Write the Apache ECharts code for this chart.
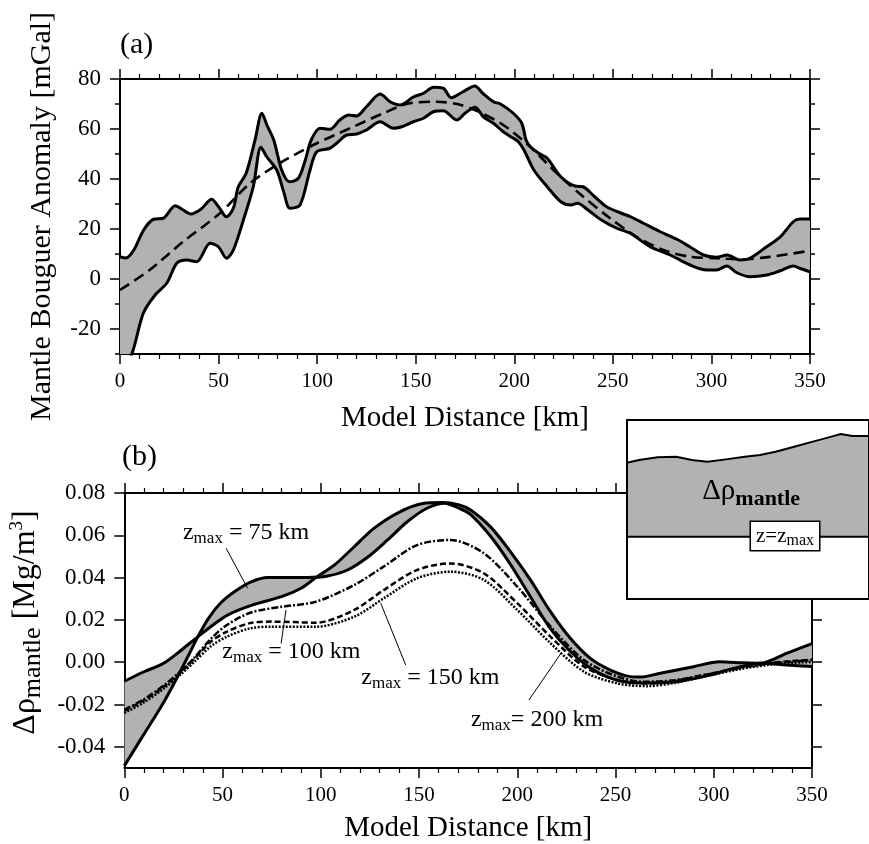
<!DOCTYPE html>
<html><head><meta charset="utf-8">
<script src="https://cdn.jsdelivr.net/npm/echarts@6/dist/echarts.min.js"></script>
<style>html,body{margin:0;padding:0;background:#fff}#c{width:869px;height:844px}</style>
</head><body><div id="c"></div>
<script>
// ---------- Panel (a): Mantle Bouguer anomaly ----------
const xTicks = [0, 50, 100, 150, 200, 250, 300, 350];
const aYTicks = [-20, 0, 20, 40, 60, 80];
const aYMinor = [-30, -10, 10, 30, 50, 70];
const aUpper = [[0,8.9],[3,8.4],[7,11.6],[12,19.6],[17,23.9],[22,24.3],[28,29.3],[32,27.6],[36,26],[41,27.9],[46.5,31.9],[50,28.9],[54,24.9],[57.5,28.3],[60,36.9],[64,42.3],[68.5,55.6],[72,66.3],[74.5,61.6],[78,55.6],[82,43.6],[86,38.9],[90.5,40.3],[94,47.6],[97,55.6],[101.5,60.3],[106.5,59.9],[111.5,63.6],[116,65.6],[120,65.2],[125,68.9],[132,74],[137,70.9],[142,69.6],[149,72.9],[154,74.3],[159,76.7],[164,76.3],[168,72.5],[174,74.9],[180,77.2],[184,74.3],[189.4,70.9],[193,70],[199.5,66.3],[203.8,62.3],[206,55.5],[208.2,52.9],[212,50.5],[216.7,48.3],[223.6,40.9],[230.8,37.2],[234.9,36.9],[240.8,32.9],[246.8,28.9],[253.7,26.5],[259,24.9],[265.5,22.3],[274,18.9],[282.5,15.9],[289,12.9],[296,9.6],[302.5,8.7],[308,9.6],[314.5,7.6],[319.5,8.3],[328,12.9],[335,16.9],[341.5,22.9],[345,24],[350,24]];
const aLower = [[0,-38],[6,-30],[11.8,-13.7],[17.8,-6.4],[23.7,-1.7],[28.8,6.3],[33.8,7.6],[38.9,6.9],[45.7,14.3],[49.9,12.9],[54.1,8.3],[57.5,11.6],[62.6,23.6],[67.6,36.9],[71.5,52.7],[74.4,48.9],[79.5,43.6],[83,35],[86.2,28.3],[91.3,29.6],[96.4,43.6],[99.8,50.9],[106.5,52.3],[109.9,54.3],[115,57.6],[120,58],[125,59.6],[131.9,62.9],[138.7,60.3],[143,60.9],[148.8,62.9],[153.9,64.3],[159,66.9],[164,67.3],[170.8,63.6],[175,66.3],[180.1,68.7],[184.3,64.9],[189.4,62.3],[194.4,58.9],[199.5,56.3],[202,55],[204.9,51.6],[209.9,43.6],[216.7,36.9],[223.6,30.9],[228.7,29.6],[232,30.3],[237.4,27.6],[244.2,23.6],[252,20.3],[258.8,18.3],[268.9,12.9],[279.1,9.6],[289.2,5.6],[297.7,3.6],[302.7,3.6],[307.8,5.2],[312.9,2.5],[319.6,0.9],[328.1,1.6],[334.9,3.3],[341.6,5.2],[345,4.2],[350,2.9]];
const aTrend = [[0,-4.4],[15,3.6],[32,14.9],[50.7,26.3],[66,38.3],[81,46.3],[98,53.6],[116.7,60.3],[133.6,66.3],[147,70.3],[160.7,70.9],[171,70],[180,67.6],[194.4,61.6],[208,52.9],[221.6,42.3],[235,32.9],[248.6,24.3],[262,16.9],[275.6,11.6],[289,8.9],[302.7,8.3],[316,7.9],[330,8.9],[350,11.3]];

// ---------- Panel (b): density contrast ----------
const bYTicks = [-0.04, -0.02, 0, 0.02, 0.04, 0.06, 0.08];
const bA = [[0,-0.009],[10,-0.0045],[20,-0.0005],[30,0.0065],[37.4,0.012],[45,0.0175],[53,0.0225],[65,0.027],[80,0.031],[90,0.035],[97.5,0.040],[107,0.046],[117,0.0546],[127,0.0633],[140,0.071],[152,0.075],[162,0.0755],[170,0.0745],[176.3,0.072],[186.4,0.064],[196.6,0.0522],[206.7,0.0389],[216.9,0.0239],[227,0.0113],[237.2,0.0018],[247.4,-0.0037],[257.5,-0.0068],[263,-0.007],[272.8,-0.0052],[289.7,-0.0021],[303,0.0002],[315,-0.0003],[323.6,-0.0005],[337,0.0042],[350,0.0088]];
const bB = [[0,-0.049],[10,-0.034],[20,-0.019],[27,-0.007],[32,0.002],[37.4,0.012],[43,0.021],[49,0.028],[56,0.0333],[64.5,0.038],[73,0.0401],[83,0.0401],[93,0.0401],[103.5,0.0408],[113.6,0.0436],[123.8,0.0496],[134,0.0578],[144,0.0664],[154,0.0728],[163,0.0752],[170,0.073],[176,0.070],[186,0.060],[196,0.047],[206,0.032],[216,0.017],[226,0.006],[236,-0.002],[246,-0.007],[256,-0.0095],[263,-0.0098],[281,-0.0092],[298,-0.0061],[310,-0.0029],[323.6,-0.0005],[337,-0.0013],[350,-0.002]];
const bZ100 = [[0,-0.0225],[10,-0.0175],[20,-0.011],[29,-0.004],[36,0.0025],[44,0.011],[52,0.0175],[64.5,0.0235],[80,0.0262],[97.5,0.0286],[117,0.0365],[132,0.0452],[149,0.0554],[166,0.0578],[183,0.0515],[200,0.0357],[217,0.0168],[234,0.001],[251,-0.0068],[264,-0.0092],[280,-0.0085],[298,-0.0055],[315,-0.0025],[330,-0.0005],[350,0.001]];
const bZ150 = [[0,-0.023],[10,-0.018],[20,-0.0116],[29,-0.0045],[36,0.002],[44,0.0097],[52,0.0144],[64,0.0185],[75,0.0192],[97.5,0.0187],[117,0.0247],[132,0.0341],[149,0.0436],[166,0.0467],[183,0.042],[200,0.0279],[217,0.012],[234,-0.0021],[251,-0.0084],[266,-0.01],[280,-0.0088],[298,-0.0055],[315,-0.0022],[330,-0.0002],[350,0.0012]];
const bZ200 = [[0,-0.024],[10,-0.019],[20,-0.0125],[29,-0.0055],[36,0.0005],[44,0.0075],[52,0.012],[64,0.016],[75,0.0168],[97.5,0.0168],[117,0.0215],[132,0.0302],[149,0.0397],[166,0.0428],[183,0.0389],[200,0.0247],[217,0.0089],[234,-0.0045],[251,-0.01],[266,-0.0113],[280,-0.0098],[298,-0.0062],[315,-0.003],[330,-0.001],[350,0.0002]];
const bLabelText = ['{n|z}{s|max}{n| = 75 km}', '{n|z}{s|max}{n| = 100 km}', '{n|z}{s|max}{n| = 150 km}', '{n|z}{s|max}{n|= 200 km}'];
const bLabelAt = [[62.2,0.0611],[85.3,0.0048],[156,-0.0075],[210.3,-0.0273]];
const bLeaders = [[[51.8,0.0539],[62.8,0.0349]], [[79.8,0.0089],[82.3,0.0247]], [[143.2,-0.0013],[130.5,0.0279]], [[205.9,-0.0179],[222.2,0.0042]]];

// ---------- Inset sketch ----------
const insetX =   [0, 5, 12.7, 20.4, 26.8, 33.2, 40.9, 48.6, 55, 61.4, 69.1, 76.8, 84.5, 88.3, 93.1, 100];
const insetTop = [76.1, 77.7, 79.2, 79.5, 77.7, 76.7, 78.0, 79.5, 80.4, 82.3, 85.1, 87.9, 90.7, 92.2, 91.1, 91];
const insetZmax = 34.8;
const insetLabels = ['{d|Δρ}{m|mantle}', '{z|z=z}{s|max}'];
const insetLabelAt = [[51.5, 59.8], [65.5, 34.9]];

// ---------- styling ----------
const FONT = 'Liberation Serif';
const INK = '#000';
const GRAY = '#b2b2b2';
const NOBORDER = { textBorderWidth: 0, textBorderColor: 'transparent', textShadowBlur: 0, opacity: 1 };

const xAxes = [], yAxes = [];
function axisLine() { return { show: true, onZero: false, lineStyle: { color: INK, width: 2 } }; }
function addX(gridIndex, position, labeled, nameGap) {
  xAxes.push({
    gridIndex, type: 'value', position,
    min: xTicks[0], max: xTicks[xTicks.length - 1], interval: xTicks[1] - xTicks[0],
    axisLine: axisLine(),
    axisTick: { show: true, inside: false, length: 10, lineStyle: { color: INK, width: 1.5 } },
    minorTick: { show: true, splitNumber: 5, length: 5, lineStyle: { color: INK, width: 1.2 } },
    splitLine: { show: false }, minorSplitLine: { show: false },
    axisLabel: { show: labeled, color: INK, fontFamily: FONT, fontSize: 21, margin: 17 },
    name: labeled ? 'Model Distance [km]' : '', nameLocation: 'middle', nameGap: nameGap || 0,
    nameTextStyle: { color: INK, fontFamily: FONT, fontSize: 29 }
  });
}
function addY(gridIndex, position, min, max, ticks, len, opts) {
  const o = opts || {};
  yAxes.push({
    gridIndex, type: 'value', position, min, max,
    axisLine: o.noLine ? { show: false, onZero: false } : axisLine(),
    axisTick: { show: true, inside: false, length: len, customValues: ticks, lineStyle: { color: INK, width: 1.5 } },
    axisLabel: o.labeled ? { show: true, customValues: ticks, formatter: o.fmt, color: INK, fontFamily: FONT, fontSize: 23, margin: 19 } : { show: false },
    splitLine: { show: false },
    name: o.name || '', nameLocation: 'middle', nameGap: o.nameGap || 0,
    nameTextStyle: o.nameStyle || {}
  });
}

// x axes: 0 a-bottom, 1 a-top, 2 b-bottom, 3 b-top, 4 inset
addX(0, 'bottom', true, 50);
addX(0, 'top', false);
addX(1, 'bottom', true, 46);
addX(1, 'top', false);
xAxes.push({ gridIndex: 2, type: 'value', min: 0, max: 100, show: false });

// y axes: 0 a-left, 1 a-left minor, 2 a-right, 3 a-right minor, 4 b-left, 5 b-right, 6 inset
addY(0, 'left', -30, 80, aYTicks, 10, { labeled: true, fmt: v => String(v),
  name: 'Mantle Bouguer Anomaly [mGal]', nameGap: 63,
  nameStyle: { color: INK, fontFamily: FONT, fontSize: 30 } });
addY(0, 'left', -30, 80, aYMinor, 5, { noLine: true });
addY(0, 'right', -30, 80, aYTicks, 10, {});
addY(0, 'right', -30, 80, aYMinor, 5, { noLine: true });
addY(1, 'left', -0.05, 0.08, bYTicks, 10, { labeled: true, fmt: v => Number(v).toFixed(2),
  name: '{a|Δρ}{s|mantle}{a| [Mg/m}{p|3}{a|]}', nameGap: 68,
  nameStyle: { color: INK, fontFamily: FONT, fontSize: 32, padding: [0, 0, 0, 16],
    rich: { a: { fontFamily: FONT, fontSize: 32, color: INK },
            s: { fontFamily: FONT, fontSize: 26, color: INK, padding: [16, 0, 0, 0] },
            p: { fontFamily: FONT, fontSize: 19, color: INK, padding: [0, 0, 16, 0] } } } });
addY(1, 'right', -0.05, 0.08, bYTicks, 10, {});
yAxes.push({ gridIndex: 2, type: 'value', min: 0, max: 100, show: false });

function bandItem(upper, lower) {
  return function (params, api) {
    const pts = [];
    upper.forEach(p => pts.push(api.coord(p)));
    for (let i = lower.length - 1; i >= 0; i--) pts.push(api.coord(lower[i]));
    const cs = params.coordSys;
    return { type: 'group', clipPath: { type: 'rect', shape: { x: cs.x, y: cs.y, width: cs.width, height: cs.height } },
      children: [{ type: 'polygon', shape: { points: pts }, style: { fill: GRAY } }] };
  };
}
function lineS(xi, yi, data, width, type, z) {
  return { type: 'line', xAxisIndex: xi, yAxisIndex: yi, data, showSymbol: false, symbol: 'none', smooth: 0.3,
    clip: true, silent: true, z: z || 3, lineStyle: { color: INK, width, type: type || 'solid' } };
}
const subRich = {
  n: Object.assign({ fontFamily: FONT, fontSize: 24, color: INK }, NOBORDER),
  s: Object.assign({ fontFamily: FONT, fontSize: 17, color: INK, padding: [12, 0, 0, 0] }, NOBORDER)
};
const labelBase = { show: true, position: [0, 0], align: 'center', verticalAlign: 'middle', color: INK };

const series = [
  { type: 'custom', xAxisIndex: 0, yAxisIndex: 0, data: [[0, 0]], clip: true, silent: true, z: 1, renderItem: bandItem(aUpper, aLower) },
  lineS(0, 0, aUpper, 3),
  lineS(0, 0, aLower, 3),
  lineS(0, 0, aTrend, 2.6, [11, 6], 4),

  { type: 'custom', xAxisIndex: 2, yAxisIndex: 4, data: [[0, 0]], clip: true, silent: true, z: 1, renderItem: bandItem(bA, bB) },
  lineS(2, 4, bA, 3),
  lineS(2, 4, bB, 3),
  lineS(2, 4, bZ100, 2.5, [7, 2, 2, 2], 4),
  lineS(2, 4, bZ150, 2.5, [6, 3], 4),
  lineS(2, 4, bZ200, 2.5, [2, 1.5], 4)
];
bLeaders.forEach(seg => series.push({ type: 'line', xAxisIndex: 2, yAxisIndex: 4, data: seg, symbol: 'none', silent: true, z: 5,
  lineStyle: { color: INK, width: 1 } }));
series.push({ type: 'scatter', xAxisIndex: 2, yAxisIndex: 4, symbolSize: 1, silent: true, z: 6,
  itemStyle: { color: 'rgba(0,0,0,0)' },
  data: bLabelAt.map((p, i) => ({ value: p, label: { formatter: bLabelText[i] } })),
  label: Object.assign({}, labelBase, NOBORDER, { rich: subRich }) });

// inset
series.push({ type: 'custom', xAxisIndex: 4, yAxisIndex: 6, data: [[0, 0]], silent: true, z: 20,
  renderItem: function (params, api) {
    const p0 = api.coord([0, 0]), p1 = api.coord([100, 100]);
    const rect = { x: p0[0], y: p1[1], width: p1[0] - p0[0], height: p0[1] - p1[1] };
    const top = insetX.map((x, i) => api.coord([x, insetTop[i]]));
    const zl = api.coord([0, insetZmax])[1];
    const poly = top.concat([[p1[0], zl], [p0[0], zl]]);
    return { type: 'group', children: [
      { type: 'rect', shape: rect, style: { fill: '#fff', stroke: null } },
      { type: 'polygon', shape: { points: poly }, style: { fill: GRAY } },
      { type: 'polyline', shape: { points: top }, style: { stroke: INK, lineWidth: 2, fill: null } },
      { type: 'line', shape: { x1: p0[0], y1: zl, x2: p1[0], y2: zl }, style: { stroke: INK, lineWidth: 2 } },
      { type: 'rect', shape: rect, style: { fill: null, stroke: INK, lineWidth: 2 } }
    ] };
  } });
series.push({ type: 'scatter', xAxisIndex: 4, yAxisIndex: 6, symbolSize: 1, silent: true, z: 21,
  itemStyle: { color: 'rgba(0,0,0,0)' },
  data: [
    { value: insetLabelAt[0], label: { formatter: insetLabels[0] } },
    { value: insetLabelAt[1], label: { formatter: insetLabels[1], backgroundColor: '#fff', borderColor: INK, borderWidth: 1.5, padding: [1, 5, 1, 5] } }
  ],
  label: Object.assign({}, labelBase, NOBORDER, { rich: {
    d: Object.assign({ fontFamily: FONT, fontSize: 29, color: INK }, NOBORDER),
    m: Object.assign({ fontFamily: FONT, fontSize: 22, color: INK, fontWeight: 'bold', padding: [15, 0, 0, 0] }, NOBORDER),
    z: Object.assign({ fontFamily: FONT, fontSize: 21, color: INK }, NOBORDER),
    s: Object.assign({ fontFamily: FONT, fontSize: 16, color: INK, padding: [10, 0, 0, 0] }, NOBORDER)
  } }) });

const chart = echarts.init(document.getElementById('c'), null, { renderer: 'canvas' });
chart.setOption({
  backgroundColor: '#fff',
  animation: false,
  title: [
    { text: '(a)', left: 120, top: 30, padding: 0, textStyle: { fontFamily: FONT, fontSize: 30, fontWeight: 'normal', color: INK } },
    { text: '(b)', left: 122, top: 442, padding: 0, textStyle: { fontFamily: FONT, fontSize: 30, fontWeight: 'normal', color: INK } }
  ],
  grid: [
    { left: 120, top: 79, width: 690, height: 275, containLabel: false },
    { left: 123, top: 493, width: 689, height: 275, containLabel: false },
    { left: 627, top: 420, width: 260, height: 179, containLabel: false }
  ],
  xAxis: xAxes,
  yAxis: yAxes,
  series
});
</script></body></html>
